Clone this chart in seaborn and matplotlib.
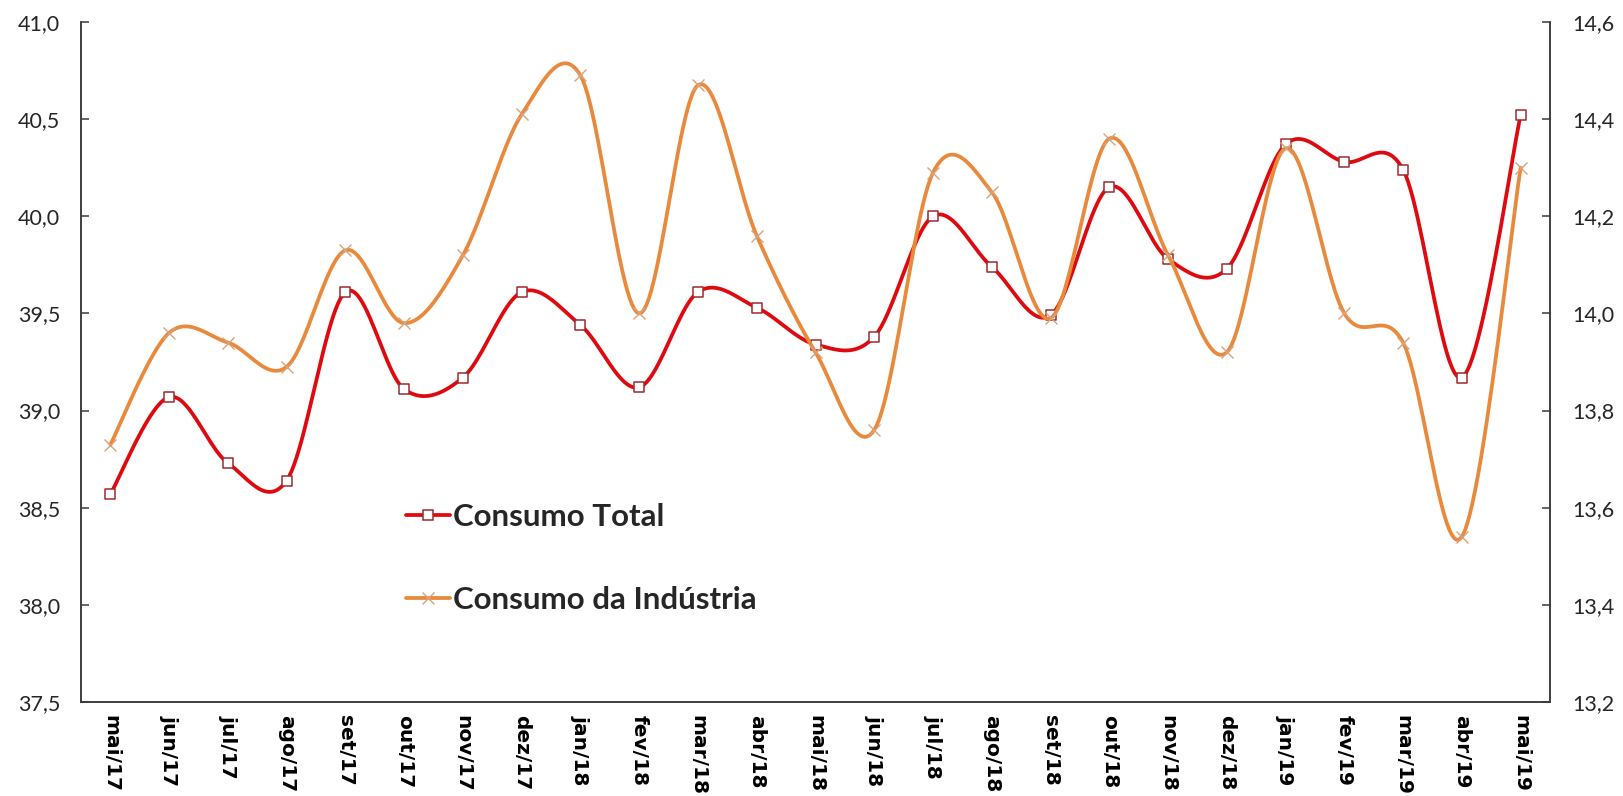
import matplotlib

matplotlib.use("Agg")
import matplotlib.pyplot as plt
import numpy as np
import pandas as pd
import seaborn as sns
from matplotlib.lines import Line2D
from matplotlib.ticker import FixedLocator, FuncFormatter


MONTHS = [
    "mai/17", "jun/17", "jul/17", "ago/17", "set/17", "out/17", "nov/17",
    "dez/17", "jan/18", "fev/18", "mar/18", "abr/18", "mai/18", "jun/18",
    "jul/18", "ago/18", "set/18", "out/18", "nov/18", "dez/18", "jan/19",
    "fev/19", "mar/19", "abr/19", "mai/19",
]
CONSUMO_TOTAL = [
    38.57, 39.07, 38.73, 38.64, 39.61, 39.11, 39.17, 39.61, 39.44, 39.12,
    39.61, 39.53, 39.34, 39.38, 40.00, 39.74, 39.49, 40.15, 39.78, 39.73,
    40.37, 40.28, 40.24, 39.17, 40.52,
]
CONSUMO_INDUSTRIA = [
    13.73, 13.96, 13.94, 13.89, 14.13, 13.98, 14.12, 14.41, 14.49, 14.00,
    14.47, 14.16, 13.92, 13.76, 14.29, 14.25, 13.99, 14.36, 14.12, 13.92,
    14.34, 14.00, 13.94, 13.54, 14.30,
]
LEFT_TICKS = [37.5, 38.0, 38.5, 39.0, 39.5, 40.0, 40.5, 41.0]
RIGHT_TICKS = [13.2, 13.4, 13.6, 13.8, 14.0, 14.2, 14.4, 14.6]
LABELS = ["Consumo Total", "Consumo da Indústria"]

RED = "#DE0A0F"
RED_EDGE = "#9E2A2F"
ORANGE = "#E8893C"
ORANGE_MARK = "#D9A27A"
AXIS_COLOR = "#3A3A3A"


def smooth_curve(values, steps=24):
    # Excel-style smoothed line: Bezier segments with Catmull-Rom control points
    pts = np.column_stack([np.arange(len(values), dtype=float), np.asarray(values, float)])
    t = np.linspace(0, 1, steps + 1)[1:, None]
    out = [pts[0]]
    for i in range(len(pts) - 1):
        p0 = pts[max(i - 1, 0)]
        p1, p2 = pts[i], pts[i + 1]
        p3 = pts[min(i + 2, len(pts) - 1)]
        c1 = p1 + (p2 - p0) / 6
        c2 = p2 - (p3 - p1) / 6
        seg = (1 - t) ** 3 * p1 + 3 * (1 - t) ** 2 * t * c1 + 3 * (1 - t) * t ** 2 * c2 + t ** 3 * p2
        out.extend(seg)
    out = np.array(out)
    return pd.DataFrame({"x": out[:, 0], "y": out[:, 1]})


def comma(v, _pos):
    return f"{v:.1f}".replace(".", ",")


def main() -> None:
    sns.set_theme(style="white")
    plt.rcParams["font.family"] = ["Lato", "DejaVu Sans"]

    fig = plt.figure(figsize=(16.23, 7.96), dpi=100)
    ax = fig.add_axes([81 / 1623, 1 - 702 / 796, (1550 - 81) / 1623, 680 / 796])
    ax2 = ax.twinx()

    idx = np.arange(len(MONTHS))

    total_curve = smooth_curve(CONSUMO_TOTAL)
    sns.lineplot(data=total_curve, x="x", y="y", ax=ax, sort=False, estimator=None,
                 color=RED, linewidth=2.7, zorder=2)
    sns.scatterplot(x=idx, y=CONSUMO_TOTAL, ax=ax, marker="s", s=44, color="white",
                    edgecolor=RED_EDGE, linewidth=1.1, zorder=3)

    ind_curve = smooth_curve(CONSUMO_INDUSTRIA)
    sns.lineplot(data=ind_curve, x="x", y="y", ax=ax2, sort=False, estimator=None,
                 color=ORANGE, linewidth=2.7, zorder=2)
    ax2.plot(idx, CONSUMO_INDUSTRIA, ls="none", marker="x", ms=8, mew=1.0,
             color=ORANGE_MARK, zorder=3)

    ax.set_xlim(-0.5, len(MONTHS) - 0.5)
    ax.set_ylim(LEFT_TICKS[0], LEFT_TICKS[-1])
    ax2.set_ylim(RIGHT_TICKS[0], RIGHT_TICKS[-1])

    ax.xaxis.set_major_locator(FixedLocator(idx))
    ax.set_xticklabels(MONTHS, rotation=-90, fontsize=14.5, fontweight="bold",
                       family="DejaVu Sans", color="black")
    ax.tick_params(axis="x", which="major", length=0, pad=9.5)
    ax.xaxis.set_minor_locator(FixedLocator(np.arange(len(MONTHS) + 1) - 0.5))
    ax.tick_params(axis="x", which="minor", direction="inout", length=11,
                   width=1.1, color=AXIS_COLOR)

    ax.yaxis.set_major_locator(FixedLocator(LEFT_TICKS))
    ax.yaxis.set_major_formatter(FuncFormatter(comma))
    ax.tick_params(axis="y", direction="in", length=6, width=1.1, color=AXIS_COLOR,
                   labelsize=15.5, labelcolor="#262626", pad=15, left=True)
    ax2.yaxis.set_major_locator(FixedLocator(RIGHT_TICKS))
    ax2.yaxis.set_major_formatter(FuncFormatter(comma))
    ax2.tick_params(axis="y", direction="in", length=6, width=1.1, color=AXIS_COLOR,
                    labelsize=15.5, labelcolor="#262626", pad=16, right=True)

    ax.set_xlabel("")
    ax.set_ylabel("")
    ax2.set_ylabel("")
    for a in (ax, ax2):
        a.grid(False)
        a.spines["top"].set_visible(False)
        for side in ("left", "right", "bottom"):
            a.spines[side].set_color(AXIS_COLOR)
            a.spines[side].set_linewidth(1.1)

    handles = [
        Line2D([], [], color=RED, lw=2.7, marker="s", ms=6.5, mfc="white",
               mec=RED_EDGE, mew=1.1),
        Line2D([], [], color=ORANGE, lw=2.7, marker="x", ms=8, mec=ORANGE_MARK, mew=1.0),
    ]
    fig.legend(handles, LABELS, loc="upper left", bbox_to_anchor=(406 / 1623, 1 - 503 / 796),
               frameon=False, prop={"family": "Lato", "weight": "bold", "size": 22.5},
               handlelength=1.4, handletextpad=0.1, labelspacing=1.75,
               borderpad=0, borderaxespad=0)

    fig.savefig("out.png", dpi=100)


if __name__ == "__main__":
    main()
